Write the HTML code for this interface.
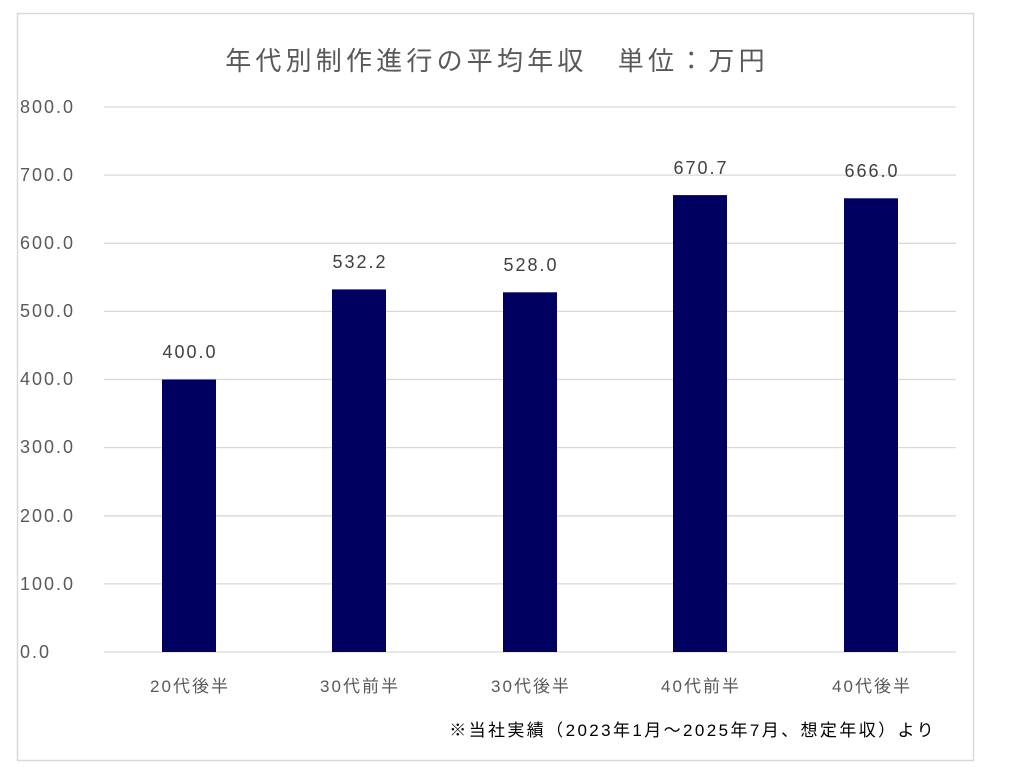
<!DOCTYPE html>
<html><head><meta charset="utf-8"><style>
body{margin:0;width:1024px;height:778px;background:#fff;overflow:hidden}
svg text{font-family:"Liberation Sans","Noto Sans CJK JP",sans-serif}
</style></head><body>
<svg width="1024" height="778" xmlns="http://www.w3.org/2000/svg">
<rect x="17.5" y="13.5" width="956" height="747" fill="#fff" stroke="#d9d9d9" stroke-width="1.5"/>
<text x="497" y="70" text-anchor="middle" font-size="26" letter-spacing="4.2" fill="#595959">年代別制作進行の平均年収　単位：万円</text>
<g stroke="#d9d9d9" stroke-width="1.3">
<line x1="104" x2="956" y1="107" y2="107"/><line x1="104" x2="956" y1="175.1" y2="175.1"/>
<line x1="104" x2="956" y1="243.3" y2="243.3"/><line x1="104" x2="956" y1="311.4" y2="311.4"/>
<line x1="104" x2="956" y1="379.5" y2="379.5"/><line x1="104" x2="956" y1="447.6" y2="447.6"/>
<line x1="104" x2="956" y1="515.8" y2="515.8"/><line x1="104" x2="956" y1="583.9" y2="583.9"/>
<line x1="104" x2="956" y1="652" y2="652"/>
</g>
<g font-size="18" letter-spacing="2" fill="#595959">
<text x="20" y="113">800.0</text><text x="20" y="181">700.0</text><text x="20" y="249">600.0</text>
<text x="20" y="317">500.0</text><text x="20" y="385">400.0</text><text x="20" y="453">300.0</text>
<text x="20" y="522">200.0</text><text x="20" y="590">100.0</text><text x="20" y="658">0.0</text>
</g>
<g fill="#000060">
<rect x="162" y="379.5" width="54" height="272.5"/>
<rect x="332" y="289.4" width="54" height="362.6"/>
<rect x="503" y="292.3" width="54" height="359.7"/>
<rect x="673" y="195.1" width="54" height="456.9"/>
<rect x="844" y="198.3" width="54" height="453.7"/>
</g>
<g font-size="18" letter-spacing="2" fill="#404040" text-anchor="middle">
<text x="190" y="358">400.0</text><text x="360" y="268">532.2</text><text x="531" y="271">528.0</text>
<text x="701" y="174">670.7</text><text x="872" y="177">666.0</text>
</g>
<g font-size="17" letter-spacing="2" fill="#595959" text-anchor="middle">
<text x="190" y="692">20代後半</text><text x="360" y="692">30代前半</text><text x="531" y="692">30代後半</text>
<text x="701" y="692">40代前半</text><text x="872" y="692">40代後半</text>
</g>
<text x="936" y="736" text-anchor="end" font-size="17" letter-spacing="2.4" fill="#000">※当社実績（2023年1月～2025年7月、想定年収）より</text>
</svg>
</body></html>
